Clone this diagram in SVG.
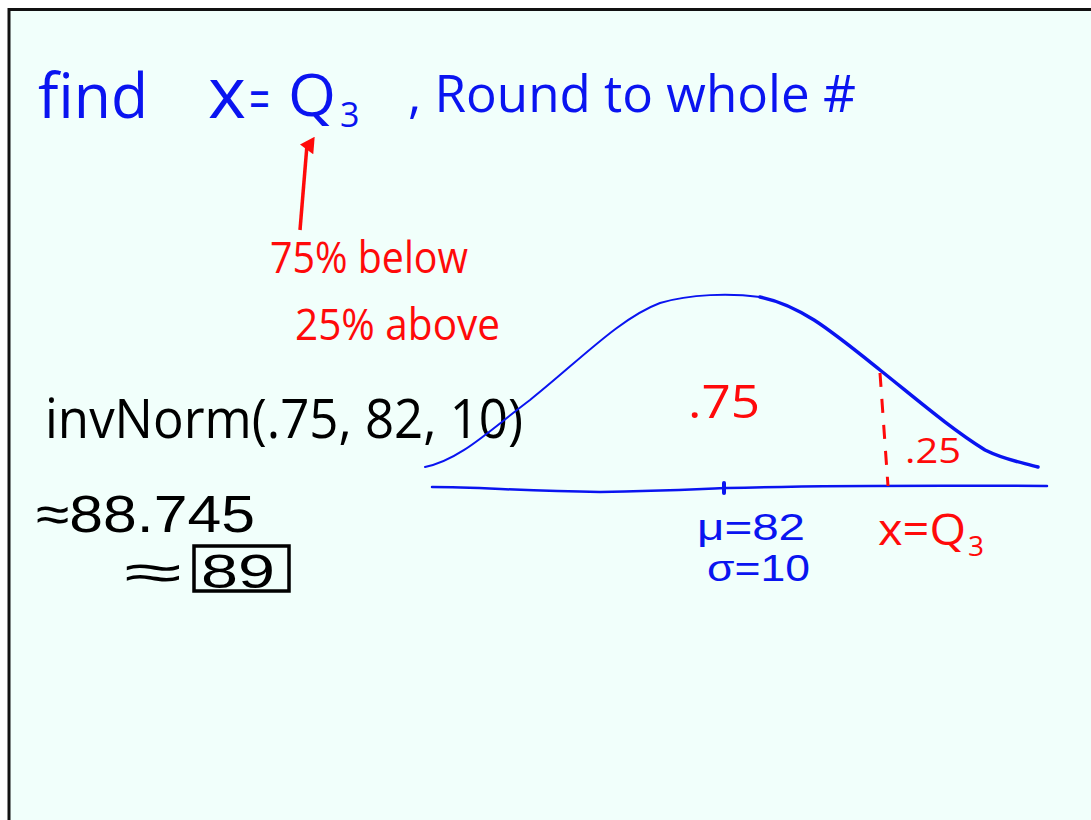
<svg xmlns="http://www.w3.org/2000/svg" width="1091" height="820" viewBox="0 0 1091 820">
<style>
text{font-family:"Open Sans","DejaVu Sans",sans-serif;}
.ls{font-family:"Liberation Sans",Arial,sans-serif;}
.b{fill:#0a14f0;}
.r{fill:#ff0a0a;}
.k{fill:#000;}
.cur{fill:none;stroke:#0a14f0;stroke-linecap:round;stroke-linejoin:round;}
</style>
<defs>
<marker id="ah" viewBox="0 0 10 10" refX="5" refY="5" markerWidth="5" markerHeight="5" orient="auto-start-reverse" markerUnits="strokeWidth">
<path d="M0,9 L5,1 L10,9 Z" fill="#ff0a0a"/>
</marker>
</defs>
<rect x="0" y="0" width="1091" height="820" fill="#ffffff"/>
<rect x="9" y="9.5" width="1100" height="820" fill="#f1fffb" stroke="#111" stroke-width="3"/>

<g id="title">
<text class="b" x="38" y="118" font-size="62" textLength="110" lengthAdjust="spacingAndGlyphs">find</text>
<text class="b" x="208" y="118" font-size="72" textLength="38" lengthAdjust="spacingAndGlyphs">x</text>
<text class="b" x="249" y="120" font-size="58" textLength="21" lengthAdjust="spacingAndGlyphs">=</text>
<text class="b" x="288" y="116" font-size="58" textLength="48" lengthAdjust="spacingAndGlyphs">Q</text>
<text class="b" x="340" y="127" font-size="34">3</text>
<text class="b" x="408" y="112" font-size="52" textLength="448" lengthAdjust="spacingAndGlyphs">, Round  to  whole #</text>
</g>

<g id="pct-note">
<text class="r" x="270" y="273" font-size="44" textLength="198" lengthAdjust="spacingAndGlyphs">75% below</text>
<text class="r" x="295" y="340" font-size="44" textLength="205" lengthAdjust="spacingAndGlyphs">25% above</text>
</g>

<g id="calc">
<text class="k" x="45" y="438" font-size="54" textLength="478" lengthAdjust="spacingAndGlyphs">invNorm(.75, 82, 10)</text>
<text class="k ls" x="36" y="532" font-size="52" textLength="219" lengthAdjust="spacingAndGlyphs">≈88.745</text>
<text class="k ls" x="124" y="590" font-size="52" textLength="58" lengthAdjust="spacingAndGlyphs">≈</text>
<rect x="194" y="546" width="95" height="45" fill="none" stroke="#000" stroke-width="3.5"/>
<text class="k ls" x="201" y="588" font-size="48" textLength="74" lengthAdjust="spacingAndGlyphs">89</text>
</g>

<g id="curve">
<path class="cur" stroke-width="2" d="M425,467 C460,460 490,430 530,400 C580,360 620,318 660,303 C690,294 730,293 760,297"/>
<path class="cur" stroke-width="3.5" d="M760,297 C800,305 830,330 880,370 C920,402 950,428 985,450 C1005,460 1020,462 1038,467"/>
<path class="cur" stroke-width="2.5" d="M432,487 C480,487 520,491 600,492 C660,491 700,489 727,488 C800,486 860,485 1047,486"/>
<path class="cur" stroke-width="4" d="M724,483 L724,493"/>
<path fill="none" stroke="#ff0a0a" stroke-width="3" stroke-dasharray="14,12" d="M880,373 L888,486"/>
</g>

<g id="labels">
<text class="r" x="688" y="418" font-size="46" textLength="72" lengthAdjust="spacingAndGlyphs">.75</text>
<text class="r" x="905" y="463" font-size="34" textLength="56" lengthAdjust="spacingAndGlyphs">.25</text>
<text class="b ls" x="697" y="540" font-size="36" textLength="108" lengthAdjust="spacingAndGlyphs">μ=82</text>
<text class="b ls" x="707" y="581" font-size="36" textLength="103" lengthAdjust="spacingAndGlyphs">σ=10</text>
<text class="r" x="878" y="545" font-size="44" textLength="88" lengthAdjust="spacingAndGlyphs">x=Q</text>
<text class="r" x="968" y="556" font-size="28">3</text>
</g>

<g id="connectors">
<path d="M300,230 L307,145" fill="none" stroke="#ff0a0a" stroke-width="3.5" marker-end="url(#ah)"/>
</g>
</svg>
